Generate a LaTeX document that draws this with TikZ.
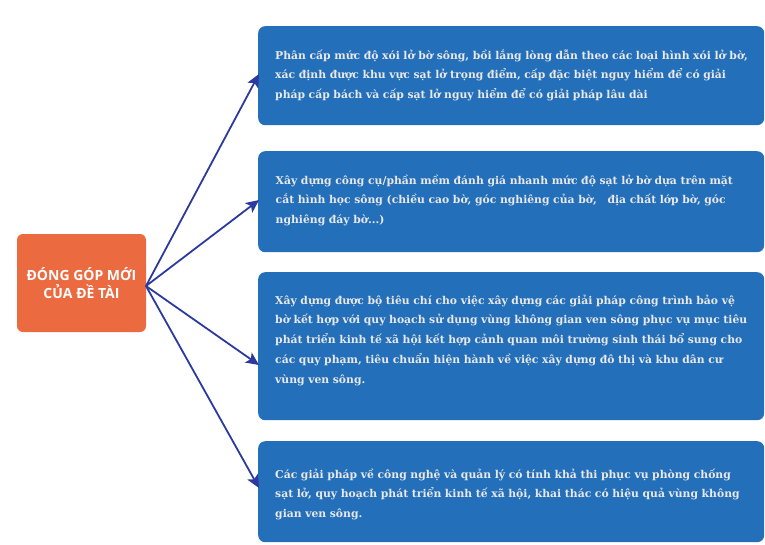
\documentclass[tikz,border=0pt]{standalone}
\usepackage{fontspec}
\setmainfont{DejaVu Serif}
\newfontfamily\headfont{Open Sans}
\usetikzlibrary{arrows.meta,calc}
\definecolor{orangebox}{HTML}{EC6A40}
\definecolor{bluebox}{HTML}{246FB9}
\definecolor{linkblue}{HTML}{2B3A9E}
\definecolor{itemtextcol}{HTML}{E8E8E8}
\begin{document}
\begin{tikzpicture}[x=1pt,y=-1pt,
  mainbox/.style={fill=orangebox, rounded corners=6pt, inner sep=0pt, text=white,
    font=\headfont\bfseries\fontsize{14}{18.5}\selectfont, align=center,
    minimum width=129pt, minimum height=98pt},
  itembox/.style={fill=bluebox, rounded corners=7pt, inner sep=0pt, anchor=north west,
    minimum width=506pt},
  itemtext/.style={text=itemtextcol, font=\bfseries\fontsize{10.8}{19.8}\selectfont,
    align=left, inner sep=0pt, text width=488pt, anchor=base west},
  link/.style={draw=linkblue, line width=1.8pt,
    -{Stealth[length=13pt,width=12pt,inset=3pt]}}]
\useasboundingbox (0,0) rectangle (765,544);

\node[mainbox] (main) at (81.5,283) {ĐÓNG GÓP MỚI\\CỦA ĐỀ TÀI};

\node[itembox, minimum height=99pt]  (b1) at (258,26)  {};
\node[itembox, minimum height=101pt] (b2) at (258,151) {};
\node[itembox, minimum height=148pt] (b3) at (258,272) {};
\node[itembox, minimum height=101pt] (b4) at (258,441) {};

\node[itemtext] (t1) at (275,59) {Phân cấp mức độ xói lở bờ sông, bồi lắng lòng dẫn theo các loại hình xói lở bờ,\\
xác định được khu vực sạt lở trọng điểm, cấp đặc biệt nguy hiểm để có giải\\
pháp cấp bách và cấp sạt lở nguy hiểm để có giải pháp lâu dài};

\node[itemtext] (t2) at (275.5,184) {Xây dựng công cụ/phần mềm đánh giá nhanh mức độ sạt lở bờ dựa trên mặt\\
cắt hình học sông (chiều cao bờ, góc nghiêng của bờ,\ \ \ địa chất lớp bờ, góc\\
nghiêng đáy bờ...)};

\node[itemtext] (t3) at (275,304) {Xây dựng được bộ tiêu chí cho việc xây dựng các giải pháp công trình bảo vệ\\
bờ kết hợp với quy hoạch sử dụng vùng không gian ven sông phục vụ mục tiêu\\
phát triển kinh tế xã hội kết hợp cảnh quan môi trường sinh thái bổ sung cho\\
các quy phạm, tiêu chuẩn hiện hành về việc xây dựng đô thị và khu dân cư\\
vùng ven sông.};

\node[itemtext] (t4) at (275,478) {Các giải pháp về công nghệ và quản lý có tính khả thi phục vụ phòng chống\\
sạt lở, quy hoạch phát triển kinh tế xã hội, khai thác có hiệu quả vùng không\\
gian ven sông.};

\coordinate (hub) at (146,286);
\coordinate (e1) at (259,74);
\coordinate (e2) at (259,200);
\coordinate (e3) at (259,365);
\coordinate (e4) at (259,488);

\draw[link] (hub) -- (e1);
\draw[link] (hub) -- (e2);
\draw[link] (hub) -- (e3);
\draw[link] (hub) -- (e4);
\end{tikzpicture}
\end{document}
